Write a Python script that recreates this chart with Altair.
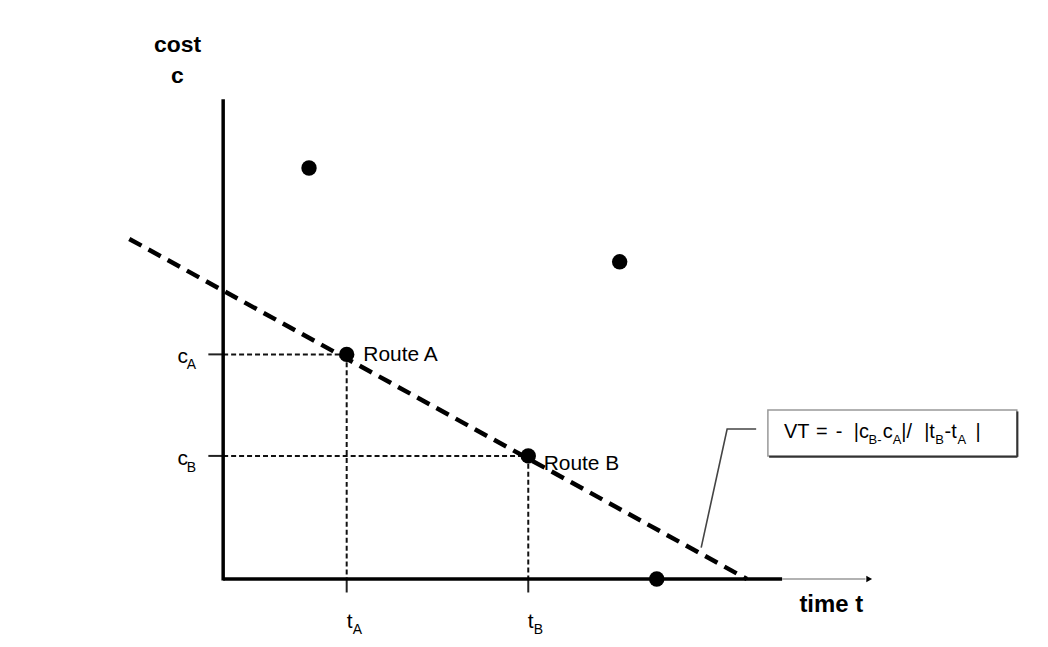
import altair as alt
import pandas as pd

# ---------------- layout (pixel mapping of the diagram) ----------------
W, H = 1036, 634
PX, PY = 6.2, 4.51          # pixels per unit of time / cost
OX, OY = 216.0, 572.0       # chart-pixel position of origin (t=0, c=0)
XMIN = -OX / PX
XMAX = (W - OX) / PX
YMAX = OY / PY
YMIN = (OY - H) / PY
FONT = "Liberation Sans"

# ---------------- data ----------------
pt_t = [13.9, 64.2, 20.0, 49.4, 70.2]
pt_c = [91.5, 70.6, 50.0, 27.4, 0.0]

route_names = ["Route A", "Route B"]
route_t = [20.0, 49.4]
route_c = [50.0, 27.4]

# dashed value-of-time line end points
vt_line_t = [-15.2, 84.8]
vt_line_c = [75.7, 0.0]

# axes
yaxis_top = 106.8
xaxis_end = 90.5
arrow_end = 104.0

xs = alt.Scale(domain=[XMIN, XMAX], nice=False, zero=False)
ys = alt.Scale(domain=[YMIN, YMAX], nice=False, zero=False)


def X(f="t"):
    return alt.X(f"{f}:Q", scale=xs, axis=None)


def Y(f="c"):
    return alt.Y(f"{f}:Q", scale=ys, axis=None)


def seg(rows, **mk):
    df = pd.DataFrame(rows, columns=["t", "c", "t2", "c2"])
    return alt.Chart(df).mark_rule(**mk).encode(
        x=X(), y=Y(), x2="t2:Q", y2="c2:Q"
    )


# guide lines (dotted)
guides = seg(
    [
        [0, route_c[0], route_t[0], route_c[0]],
        [0, route_c[1], route_t[1], route_c[1]],
        [route_t[0], route_c[0], route_t[0], 0],
        [route_t[1], route_c[1], route_t[1], 0],
    ],
    color="#111", strokeWidth=2, strokeDash=[5, 3],
)

# tick marks
ticks = seg(
    [
        [-2.4, route_c[0], 0, route_c[0]],
        [-2.4, route_c[1], 0, route_c[1]],
        [route_t[0], 0, route_t[0], -3.0],
        [route_t[1], 0, route_t[1], -3.0],
    ],
    color="#222", strokeWidth=2,
)

# dashed line
vt_line = seg(
    [[vt_line_t[0], vt_line_c[0], vt_line_t[1], vt_line_c[1]]],
    color="#000", strokeWidth=4.5, strokeDash=[14, 8],
)

# axes
axes = seg(
    [[0, -0.35, 0, yaxis_top], [0, 0, xaxis_end, 0]],
    color="#000", strokeWidth=3.5,
)
arrow_line = seg([[xaxis_end, 0, arrow_end, 0]], color="#999", strokeWidth=1.5)
arrow_head = alt.Chart(pd.DataFrame({"t": [arrow_end + 0.6], "c": [0.0]})).mark_point(
    shape="triangle-right", filled=True, size=45, color="#000", opacity=1
).encode(x=X(), y=Y())

# points
points = alt.Chart(pd.DataFrame({"t": pt_t, "c": pt_c})).mark_circle(
    size=240, color="#000", opacity=1
).encode(x=X(), y=Y())

# leader line
leader_df = pd.DataFrame({"t": [86.3, 81.6, 77.4], "c": [33.4, 33.4, 7.0], "o": [0, 1, 2]})
leader = alt.Chart(leader_df).mark_line(color="#444", strokeWidth=1.6).encode(
    x=X(), y=Y(), order="o:O"
)

# formula box
box = alt.Chart(pd.DataFrame({"t": [88.2], "c": [37.6], "t2": [128.5], "c2": [27.4]})).mark_rect(
    fill="white", stroke="#999", strokeWidth=1.5
).encode(x=X(), y=Y(), x2="t2:Q", y2="c2:Q")
box_shadow = seg(
    [[128.6, 37.3, 128.6, 27.2], [88.4, 27.2, 128.6, 27.2]],
    color="#333", strokeWidth=2,
)


def texts(t, c, s, size, weight="normal", align="left"):
    df = pd.DataFrame({"t": t, "c": c, "s": s})
    return alt.Chart(df).mark_text(
        font=FONT, fontSize=size, fontWeight=weight, align=align,
        baseline="alphabetic", color="#000"
    ).encode(x=X(), y=Y(), text="s:N")


lbl_bold = texts([-7.4, -7.4], [117.2, 110.3], ["cost", "c"], 23, "bold", "center")
lbl_time = texts([93.3], [-7.4], ["time t"], 24, "bold")
lbl_main = texts(
    [-7.4, -7.4, 20.0, 49.3],
    [48.0, 25.4, -10.9, -10.9],
    ["c", "c", "t", "t"], 21,
)
lbl_sub = texts(
    [-5.9, -5.9, 21.0, 50.3],
    [46.7, 23.9, -12.3, -12.3],
    ["A", "B", "A", "B"], 14,
)
lbl_route = texts([22.7, 51.9], [48.5, 24.2], route_names, 21)

f_main = texts(
    [90.8, 96.0, 99.2, 102.1, 106.8, 109.8, 113.5, 116.8, 121.8],
    [31.4] * 9,
    ["VT", "=", "-", "|c", "c", "|/", "|t", "-t", "|"], 20,
)
f_sub = texts(
    [104.5, 108.4, 115.3, 118.9],
    [30.0] * 4,
    ["B-", "A", "B", "A"], 13,
)

chart = alt.layer(
    guides, ticks, vt_line, axes, arrow_line, arrow_head, leader, box, box_shadow,
    points, lbl_bold, lbl_time, lbl_main, lbl_sub, lbl_route, f_main, f_sub,
).properties(
    width=W, height=H, padding=0, autosize=alt.AutoSizeParams(type="none"),
    background="white",
).configure_view(stroke=None)

chart.save("out.html", embed_options={"renderer": "svg", "actions": False})
